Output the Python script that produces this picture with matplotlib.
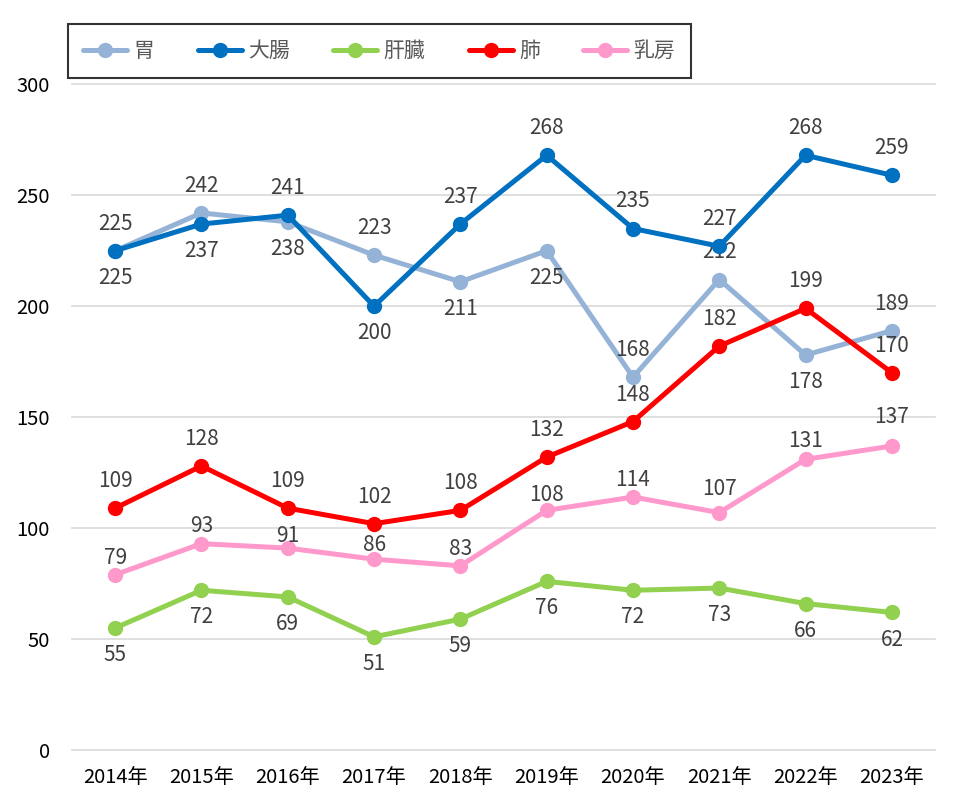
import numpy as np
import matplotlib.pyplot as plt

plt.rcParams['font.family'] = ['Noto Sans CJK JP', 'DejaVu Sans']

years = ['2014年', '2015年', '2016年', '2017年', '2018年',
         '2019年', '2020年', '2021年', '2022年', '2023年']

stomach = [225, 242, 238, 223, 211, 225, 168, 212, 178, 189]
colon = [225, 237, 241, 200, 237, 268, 235, 227, 268, 259]
liver = [55, 72, 69, 51, 59, 76, 72, 73, 66, 62]
lung = [109, 128, 109, 102, 108, 132, 148, 182, 199, 170]
breast = [79, 93, 91, 86, 83, 108, 114, 107, 131, 137]

# label offset (points) for each point: positive = above, negative = below
stomach_off = [-19.5, 19.5, -19.5, 19.5, -19.5, -19.5, 19.5, 19.5, -19.5, 19.5]
colon_off = [19.5, -19.5, 19.5, -19.5, 19.5, 19.5, 19.5, 19.5, 19.5, 19.5]
liver_off = [-19.5] * 10
lung_off = [19.5] * 10
breast_off = [12, 13, 9, 10, 12, 11, 12, 17, 13, 21]

series = [
    ('胃', stomach, stomach_off, '#95B3D7'),
    ('大腸', colon, colon_off, '#0070C0'),
    ('肝臓', liver, liver_off, '#92D050'),
    ('肺', lung, lung_off, '#FF0000'),
    ('乳房', breast, breast_off, '#FF99CC'),
]

fig = plt.figure(figsize=(9.6, 8.1), dpi=100)
ax = fig.add_axes([0.075, 0.074, 0.899, 0.822])

x = np.arange(len(years))
for name, vals, offs, color in series:
    ax.plot(x, vals, color=color, lw=3.6, marker='o', ms=10, label=name,
            solid_capstyle='round', clip_on=False, zorder=3)
    for xi, v, o in zip(x, vals, offs):
        ax.annotate(str(v), (xi, v), xytext=(0, o), textcoords='offset points',
                    ha='center', va='center', fontsize=15, color='#404040')

ax.set_xlim(-0.5, len(years) - 0.5)
ax.set_ylim(0, 300)
ax.set_yticks(range(0, 301, 50))
ax.set_xticks(x)
ax.set_xticklabels(years)
ax.tick_params(length=0, labelsize=14.5, pad=12)
ax.tick_params(axis='y', pad=16)
ax.grid(axis='y', color='#D9D9D9', lw=1.2, clip_on=False)
ax.set_axisbelow(True)
for s in ax.spines.values():
    s.set_visible(False)

leg = fig.legend(loc='center', bbox_to_anchor=(0.395, 0.937), ncol=5, fontsize=15,
                 frameon=True, fancybox=False, edgecolor='black', handlelength=2.1,
                 handletextpad=0.3, columnspacing=2.1, borderpad=0.75,
                 borderaxespad=0)
leg.get_frame().set_linewidth(1.5)
for t in leg.get_texts():
    t.set_color('#595959')

fig.savefig('out.png', dpi=100)
